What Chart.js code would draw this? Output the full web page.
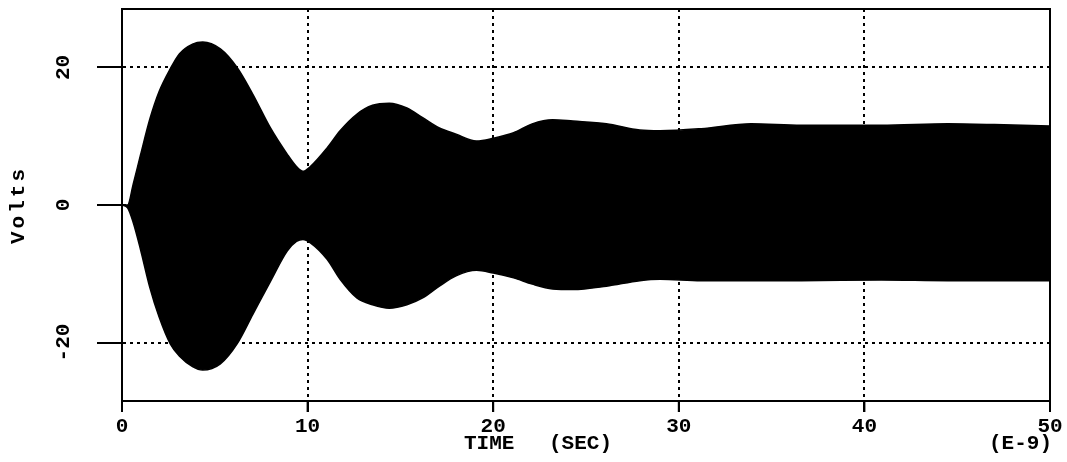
<!DOCTYPE html>
<html>
<head>
<meta charset="utf-8">
<script src="https://cdn.jsdelivr.net/npm/chart.js@4.4.1/dist/chart.umd.min.js"></script>
<style>
  html, body { margin: 0; padding: 0; background: #fff; }
  canvas { display: block; }
</style>
</head>
<body>
<canvas id="chart" width="1067" height="462"></canvas>
<script>
/* ---------- data (time in ns, volts) ---------- */
const times = [0, 0.3, 0.6, 1.0, 1.5, 2.0, 2.6, 3.1, 3.8, 4.35, 5.3, 6.2, 7.05, 8.0, 8.9, 9.4, 9.75,
  10.15, 11.05, 11.75, 12.65, 13.5, 14.4, 15.35, 16.2, 17.1, 18.0, 19.1, 20.0, 21.1, 22.1, 23.2,
  24.3, 26.1, 27.9, 29.0, 31.2, 33.9, 36.6, 40.9, 44.5, 47, 50];

const upperEnvelope = [0, 0, 3.0, 7.3, 12.5, 16.5, 19.8, 22.0, 23.4, 23.7, 22.7, 20.0, 16.1, 11.2, 7.4, 5.6, 4.9,
  5.6, 8.3, 10.8, 13.2, 14.5, 14.8, 14.1, 12.7, 11.2, 10.3, 9.3, 9.7, 10.5, 11.8, 12.4,
  12.2, 11.8, 10.9, 10.8, 11.1, 11.8, 11.6, 11.6, 11.8, 11.7, 11.5];

const lowerEnvelope = [0, -0.4, -2.5, -6.5, -12.0, -16.3, -20.2, -22.0, -23.5, -24.0, -23.1, -20.2, -15.9, -11.1, -6.7, -5.3, -5.0,
  -5.5, -7.9, -10.8, -13.5, -14.5, -15.0, -14.5, -13.5, -11.8, -10.3, -9.5, -9.9, -10.6, -11.5, -12.2,
  -12.3, -11.8, -11.0, -10.8, -11.0, -11.0, -11.0, -10.9, -11.0, -11.0, -11.0];

const xTickValues = [0, 10, 20, 30, 40, 50];
const yTickValues = [-20, 0, 20];

const xTitle = "TIME";
const xUnit = "(SEC)";
const xExponent = "(E-9)";
const yTitle = "Volts";

/* ---------- look ---------- */
const FONT = "bold 21px 'Liberation Mono', 'DejaVu Sans Mono', monospace";
const INK = "#000";

const toPoints = vals => vals.map((v, i) => ({ x: times[i], y: v }));

/* extra text + frame, positioned from the chart's scales */
const labelsPlugin = {
  id: "labels",
  afterDraw(chart) {
    const { ctx, chartArea: a, scales } = chart;
    ctx.save();

    // frame
    ctx.strokeStyle = INK;
    ctx.lineWidth = 2;
    ctx.strokeRect(a.left, a.top, a.right - a.left, a.bottom - a.top);

    // x tick marks below the axis
    xTickValues.forEach(v => {
      const x = scales.x.getPixelForValue(v);
      ctx.beginPath();
      ctx.moveTo(x, a.bottom);
      ctx.lineTo(x, a.bottom + 11);
      ctx.stroke();
    });

    ctx.fillStyle = INK;
    ctx.font = FONT;
    ctx.textAlign = "center";
    ctx.textBaseline = "middle";

    // rotated y tick labels
    yTickValues.forEach(v => {
      const y = scales.y.getPixelForValue(v);
      ctx.save();
      ctx.translate(64, y);
      ctx.rotate(-Math.PI / 2);
      ctx.fillText(String(v), 0, 0);
      ctx.restore();
    });

    // y title
    ctx.save();
    ctx.translate(19, scales.y.getPixelForValue(0));
    ctx.rotate(-Math.PI / 2);
    ctx.letterSpacing = "3px";
    ctx.fillText(yTitle, 0, 0);
    ctx.restore();

    // x title pieces
    ctx.textAlign = "left";
    ctx.fillText(xTitle, 464, 444);
    ctx.fillText(xUnit, 549, 444);
    ctx.textAlign = "right";
    ctx.fillText(xExponent, 1052, 444);

    ctx.restore();
  }
};

new Chart(document.getElementById("chart"), {
  type: "line",
  data: {
    datasets: [
      {
        label: "upper",
        data: toPoints(upperEnvelope),
        borderColor: INK,
        borderWidth: 1.5,
        pointRadius: 0,
        cubicInterpolationMode: "monotone",
        fill: false
      },
      {
        label: "lower",
        data: toPoints(lowerEnvelope),
        borderColor: INK,
        borderWidth: 1.5,
        pointRadius: 0,
        cubicInterpolationMode: "monotone",
        backgroundColor: INK,
        fill: "-1"
      }
    ]
  },
  options: {
    responsive: false,
    animation: false,
    devicePixelRatio: 1,
    layout: { padding: { left: 0, top: 9, right: 17, bottom: 0 } },
    plugins: {
      legend: { display: false },
      tooltip: { enabled: false }
    },
    scales: {
      x: {
        type: "linear",
        min: 0,
        max: 50,
        afterBuildTicks: s => { s.ticks = xTickValues.map(v => ({ value: v })); },
        afterFit: s => { s.height = 61; },
        grid: {
          color: INK,
          lineWidth: 2,
          tickLength: 11,
          tickWidth: 2,
          tickColor: INK,
          tickBorderDash: []
        },
        border: { display: true, color: INK, width: 2, dash: [3, 4] },
        ticks: {
          color: INK,
          padding: 2,
          maxRotation: 0,
          font: { family: "'Liberation Mono', monospace", size: 21, weight: "bold" }
        }
      },
      y: {
        min: -28.5,
        max: 28.5,
        afterBuildTicks: s => { s.ticks = yTickValues.map(v => ({ value: v })); },
        afterFit: s => { s.width = 122; },
        grid: {
          color: INK,
          lineWidth: 2,
          tickLength: 25,
          tickWidth: 2,
          tickColor: INK,
          tickBorderDash: []
        },
        border: { display: true, color: INK, width: 2, dash: [3, 4] },
        ticks: { display: false }
      }
    }
  },
  plugins: [labelsPlugin]
});
</script>
</body>
</html>
